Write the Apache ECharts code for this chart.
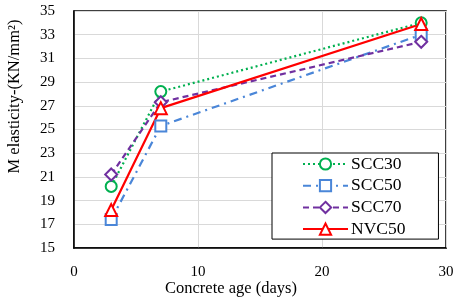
<!DOCTYPE html>
<html><head><meta charset="utf-8">
<script src="https://cdn.jsdelivr.net/npm/echarts@6/dist/echarts.min.js"></script>
<style>html,body{margin:0;padding:0;background:#fff}#c{width:456px;height:299px}</style>
</head><body><div id="c"></div>
<script>
const days = [3, 7, 28];
const scc30 = [20.2, 28.2, 34.0];
const scc50 = [17.4, 25.3, 33.0];
const scc70 = [21.2, 27.3, 32.4];
const nvc50 = [18.2, 26.8, 33.9];
const seriesNames = ['SCC30', 'SCC50', 'SCC70', 'NVC50'];
const xTicks = [0, 10, 20, 30];
const yTicks = [15, 17, 19, 21, 23, 25, 27, 29, 31, 33, 35];

const font = 'Liberation Serif';
function pairs(v){ return days.map((d,i)=>[d, v[i]]); }
function mk(name, vals, color, type, symbol, size){
  return {
    name, type:'line', data:pairs(vals), symbol, symbolSize:size,
    lineStyle:{color, width:2.2, type},
    itemStyle:{color:'#fff', borderColor:color, borderWidth:2},
    emphasis:{disabled:true}, z: 3
  };
}
const chart = echarts.init(document.getElementById('c'));
chart.setOption({
  animation:false,
  grid:{left:74, right:10, top:11, bottom:51, outerBoundsMode:'none', containLabel:false,
    show:true, borderColor:'#000', borderWidth:1.5, backgroundColor:'transparent'},
  xAxis:{type:'value', min:xTicks[0], max:xTicks[xTicks.length-1], interval:10,
    name:'Concrete age (days)', nameLocation:'middle', nameGap:32, nameMoveOverlap:false,
    nameTextStyle:{fontFamily:font, fontSize:16.5, color:'#000', padding:[0,58,0,0]},
    axisLine:{lineStyle:{color:'#000', width:1.5}}, axisTick:{show:false},
    axisLabel:{fontFamily:font, fontSize:15, color:'#000', margin:17},
    splitLine:{lineStyle:{color:'#d9d9d9', width:1}}},
  yAxis:{type:'value', min:yTicks[0], max:yTicks[yTicks.length-1], interval:2,
    name:'M elasticity-(KN/mm²)', nameLocation:'middle', nameGap:51, nameMoveOverlap:false,
    nameTextStyle:{fontFamily:font, fontSize:16.5, color:'#000', padding:[0,0,0,66]},
    axisLine:{lineStyle:{color:'#000', width:1.5}}, axisTick:{show:false},
    axisLabel:{fontFamily:font, fontSize:15, color:'#000', margin:19},
    splitLine:{lineStyle:{color:'#d9d9d9', width:1}}},
  legend:{
    orient:'vertical', left:272, top:153,
    padding:[2, 33, 1, 30],
    backgroundColor:'#fff', borderColor:'#000', borderWidth:1,
    itemWidth:45, itemHeight:14, itemGap:3.7,
    textStyle:{fontFamily:font, fontSize:17.5, color:'#000', padding:[0,0,0,-2]},
    data:seriesNames
  },
  series:[
    mk(seriesNames[0], scc30, '#00B050', [2,3], 'circle', 11),
    mk(seriesNames[1], scc50, '#4A86D8', [8,5,2,5], 'rect', 11),
    mk(seriesNames[2], scc70, '#7030A0', [6,4], 'diamond', 12),
    mk(seriesNames[3], nvc50, '#FF0000', 'solid', 'triangle', 12)
  ]
});
</script></body></html>
